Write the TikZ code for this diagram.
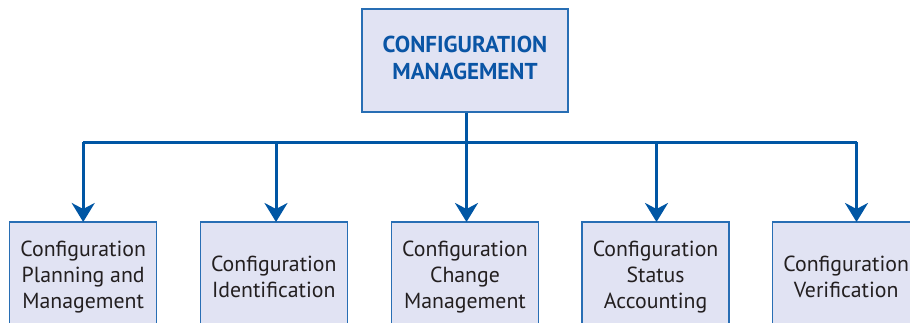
\documentclass[tikz,border=0pt]{standalone}
\usepackage{fontspec}
\setmainfont{PT Sans}
\usetikzlibrary{arrows.meta}
\definecolor{lineblue}{RGB}{0,86,164}
\definecolor{boxfill}{RGB}{225,227,243}
\definecolor{boxedge}{RGB}{40,110,180}
\definecolor{topText}{RGB}{10,85,165}
\definecolor{subText}{RGB}{35,31,32}
\tikzset{
  topbox/.style={draw=boxedge, line width=1.5pt, fill=boxfill, minimum width=206pt, minimum height=103pt,
    align=center, text=topText, font=\fontsize{23}{28}\selectfont\bfseries, inner sep=0pt},
  subbox/.style={draw=boxedge, line width=1.5pt, fill=boxfill, minimum width=147pt, minimum height=110pt,
    align=center, text=subText, font=\fontsize{21.8}{26.3}\selectfont, inner sep=0pt},
  link/.style={draw=lineblue, line width=3pt},
  arrowlink/.style={link, -{Stealth[length=19pt, width=23pt, inset=6pt]}}
}
\begin{document}
\begin{tikzpicture}[x=1pt, y={(0pt,-1pt)}]
\useasboundingbox (0,0) rectangle (910,323);
\node[topbox] (cm) at (465,60.5) {\raisebox{2.5pt}{\begin{tabular}{@{}c@{}}CONFIGURATION\\[-0.5pt]MANAGEMENT\end{tabular}}};
\node[subbox] (b1) at (83.2,277) {Configuration\\Planning and\\Management};
\node[subbox] (b2) at (273.8,277) {Configuration\\Identification};
\node[subbox] (b3) at (465,277) {Configuration\\Change\\Management};
\node[subbox] (b4) at (655.6,277) {Configuration\\Status\\Accounting};
\node[subbox] (b5) at (846.2,277) {Configuration\\Verification};
\coordinate (bus) at (466.5,142.5);
\coordinate (t1) at (83.2,222);
\coordinate (t2) at (276,222);
\coordinate (t3) at (466.5,222);
\coordinate (t4) at (656.5,222);
\coordinate (t5) at (856.5,222);
\draw[link] (cm.south -| bus) -- (bus);
\draw[link] (t1 |- bus) -- (t5 |- bus);
\foreach \t in {t1,t2,t3,t4,t5}{
  \draw[arrowlink] (\t |- bus) -- (\t);
}
\end{tikzpicture}
\end{document}
